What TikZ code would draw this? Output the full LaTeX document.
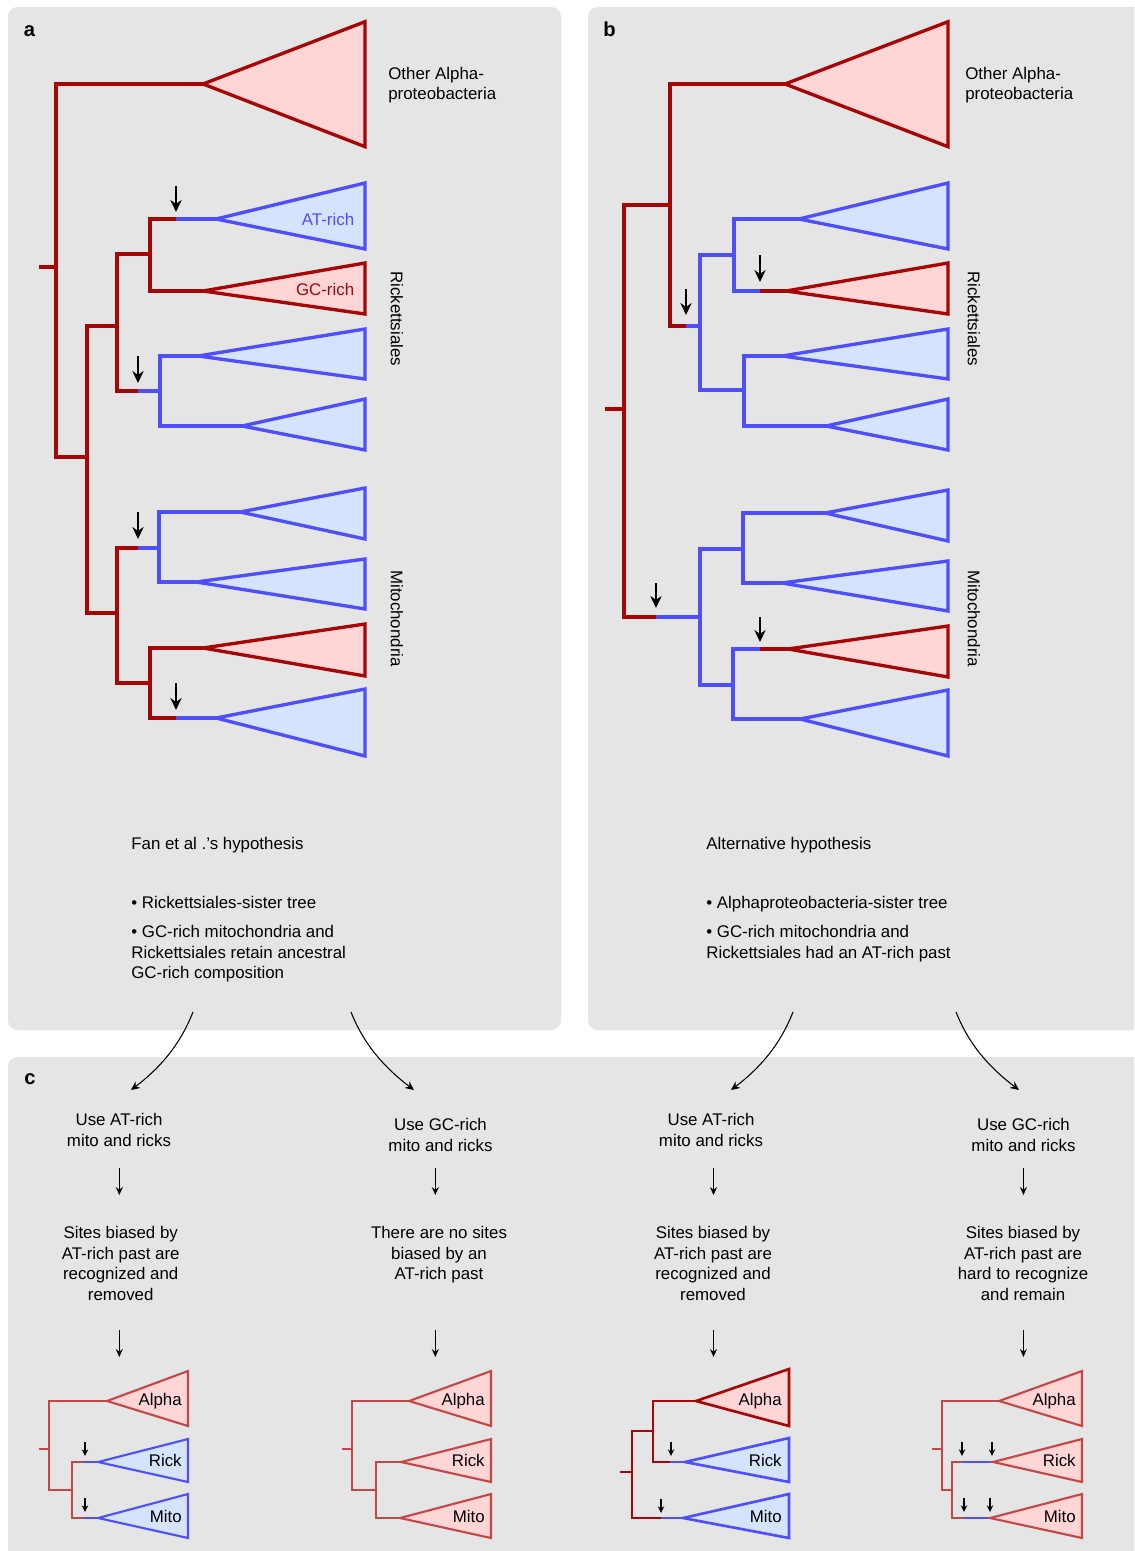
\documentclass[tikz,border=0pt]{standalone}
\usepackage{fontspec}
\setmainfont{Liberation Sans}
\usetikzlibrary{arrows.meta}
\definecolor{panel}{RGB}{229,229,229}
\definecolor{tred}{RGB}{166,6,6}
\definecolor{tblue}{RGB}{78,78,250}
\definecolor{pfill}{RGB}{255,213,214}
\definecolor{bfill}{RGB}{213,227,252}
\definecolor{mred}{RGB}{196,70,70}
\newcommand\mkclade[6]{\filldraw[#6] (#1,#2) -- (#3,#4) -- (#3,#5) -- cycle;}
\newcommand\mkarrow[5]{\coordinate (#1s) at (#2,#3); \coordinate (#1e) at (#2,#4); \draw[#5] (#1s) -- (#1e);}
\tikzset{
  rb/.style={draw=tred, line width=1.9pt},
  bb/.style={draw=tblue, line width=1.9pt},
  rtri/.style={draw=tred, fill=pfill, line width=1.9pt},
  btri/.style={draw=tblue, fill=bfill, line width=1.9pt},
  mrs/.style={draw=mred, line width=1.2pt},
  mbs/.style={draw=tblue, line width=1.2pt},
  mrtri/.style={draw=mred, fill=pfill, line width=1.2pt},
  mbtri/.style={draw=tblue, fill=bfill, line width=1.2pt},
  drs/.style={draw=tred, line width=1.5pt},
  dbs/.style={draw=tblue, line width=1.5pt},
  drtri/.style={draw=tred, fill=pfill, line width=1.5pt},
  dbtri/.style={draw=tblue, fill=bfill, line width=1.5pt},
  tarr/.style={-{Stealth[length=6.8pt,width=6.4pt]}, line width=1.1pt, black},
  sarr/.style={-{Stealth[length=3.8pt,width=3.6pt]}, line width=0.8pt, black},
  carr/.style={-{Stealth[length=4.5pt,width=4pt]}, line width=0.6pt, black},
  farr/.style={-{Stealth[length=5pt,width=4.6pt]}, line width=0.6pt, black},
  txt/.style={font=\fontsize{9.6}{11.7}\selectfont, inner sep=0pt},
  lbl/.style={font=\fontsize{11.5}{13}\selectfont\bfseries, inner sep=0pt, anchor=base west},
}
\begin{document}
\begin{tikzpicture}[x=0.02cm, y=-0.02cm]
\useasboundingbox (0,0) rectangle (1134,1551);
\begin{scope}
\clip (0,0) rectangle (1134,1551);
\fill[panel, rounded corners=5.5pt] (8,7) rectangle (561,1030);
\fill[panel, rounded corners=5.5pt] (588,7) rectangle (1150,1030);
\fill[panel, rounded corners=5.5pt] (8,1057) rectangle (1150,1570);
\end{scope}

% panel labels
\node[lbl] (la) at (23.5,36.7) {a};
\node[lbl] (lb) at (603,36.7) {b};
\node[lbl] (lc) at (24,1084) {c};

% ===== tree a =====
\draw[rb] (39,267) -- (56,267);
\draw[rb] (203,84) -- (56,84) -- (56,457) -- (87,457);
\draw[rb] (117,326) -- (87,326) -- (87,613) -- (117,613);
\draw[rb] (150,254) -- (117,254) -- (117,391) -- (138,391);
\draw[rb] (176,219) -- (150,219) -- (150,291) -- (203,291);
\draw[bb] (176,219) -- (216,219);
\draw[bb] (138,391) -- (160,391);
\draw[bb] (198,356) -- (160,356) -- (160,426) -- (242,426);
\draw[rb] (138,548) -- (117,548) -- (117,683) -- (150,683);
\draw[rb] (203,648) -- (150,648) -- (150,718) -- (176,718);
\draw[bb] (176,718) -- (216,718);
\draw[bb] (138,548) -- (159,548);
\draw[bb] (240,512) -- (159,512) -- (159,582) -- (196,582);
\mkclade{203}{84}{365}{21.7}{146.7}{rtri}
\mkclade{216}{219}{365}{183}{249}{btri}
\mkclade{203}{291}{365}{263}{314}{rtri}
\mkclade{198}{356}{365}{329}{379}{btri}
\mkclade{242}{426}{365}{399}{450}{btri}
\mkclade{240}{512}{365}{488}{539}{btri}
\mkclade{196}{582}{365}{559}{609}{btri}
\mkclade{203}{648}{365}{624}{676}{rtri}
\mkclade{216}{718}{365}{689}{756}{btri}
\mkarrow{aa1}{176}{186}{212}{tarr}
\mkarrow{aa2}{138}{356}{383}{tarr}
\mkarrow{aa3}{138}{512}{539}{tarr}
\mkarrow{aa4}{176}{683}{710}{tarr}
\node[txt, text=tblue, anchor=base east] (atrich) at (354.5,225.3) {AT-rich};
\node[txt, text=tred, anchor=base east] (gcrich) at (354.5,296) {GC-rich};
\node[txt, anchor=north west, align=left] (alphaA) at (388,66.7) {Other Alpha-\\proteobacteria};
\node[txt, rotate=-90] (rickA) at (397,318.7) {Rickettsiales};
\node[txt, rotate=-90] (mitoA) at (397,618.5) {Mitochondria};
\node[txt, anchor=north west] (hypA) at (131,837.3) {Fan et al .’s hypothesis};
\node[txt, anchor=north west, align=left] (bulA) at (131,895.7) {• Rickettsiales-sister tree\\[4.9pt]• GC-rich mitochondria and\\Rickettsiales retain ancestral\\GC-rich composition};

% ===== tree b =====
\draw[rb] (605,409) -- (624,409);
\draw[rb] (670,205) -- (624,205) -- (624,617) -- (656,617);
\draw[rb] (785,84) -- (670,84) -- (670,326) -- (686,326);
\draw[bb] (686,326) -- (700,326);
\draw[bb] (734,255) -- (700,255) -- (700,390) -- (744,390);
\draw[bb] (799,219) -- (734,219) -- (734,291) -- (760,291);
\draw[rb] (760,291) -- (786,291);
\draw[bb] (782,356) -- (744,356) -- (744,426) -- (826,426);
\draw[bb] (656,617) -- (700,617);
\draw[bb] (743,549) -- (700,549) -- (700,685) -- (733,685);
\draw[bb] (825,513) -- (743,513) -- (743,583) -- (782,583);
\draw[bb] (760,649) -- (733,649) -- (733,719) -- (800,719);
\draw[rb] (760,649) -- (788,649);
\mkclade{785}{84}{948}{21.7}{146.7}{rtri}
\mkclade{799}{219}{948}{183}{249}{btri}
\mkclade{786}{291}{948}{263}{314}{rtri}
\mkclade{782}{356}{948}{329}{379}{btri}
\mkclade{826}{426}{948}{399}{450}{btri}
\mkclade{825}{513}{948}{490}{541}{btri}
\mkclade{782}{583}{948}{561}{611}{btri}
\mkclade{788}{649}{948}{626}{677}{rtri}
\mkclade{800}{719}{948}{690}{756}{btri}
\mkarrow{ba1}{760}{255}{282}{tarr}
\mkarrow{ba2}{686}{289}{315}{tarr}
\mkarrow{ba3}{656}{583}{608}{tarr}
\mkarrow{ba4}{760}{617}{642}{tarr}
\node[txt, anchor=north west, align=left] (alphaB) at (965,66.7) {Other Alpha-\\proteobacteria};
\node[txt, rotate=-90] (rickB) at (974,318.7) {Rickettsiales};
\node[txt, rotate=-90] (mitoB) at (974,618.5) {Mitochondria};
\node[txt, anchor=north west] (hypB) at (706,837.3) {Alternative hypothesis};
\node[txt, anchor=north west, align=left] (bulB) at (706,895.7) {• Alphaproteobacteria-sister tree\\[4.9pt]• GC-rich mitochondria and\\Rickettsiales had an AT-rich past};

% ===== curved arrows to c =====
\coordinate (fa1) at (193,1012); \coordinate (fa1e) at (131,1090);
\coordinate (fa2) at (351,1012); \coordinate (fa2e) at (414,1090);
\coordinate (fb1) at (793,1012); \coordinate (fb1e) at (731,1090);
\coordinate (fb2) at (956,1012); \coordinate (fb2e) at (1019,1090);
\draw[farr] (fa1) .. controls (180,1045) and (160,1068) .. (fa1e);
\draw[farr] (fa2) .. controls (364,1045) and (385,1068) .. (fa2e);
\draw[farr] (fb1) .. controls (780,1045) and (760,1068) .. (fb1e);
\draw[farr] (fb2) .. controls (969,1045) and (990,1068) .. (fb2e);

% ===== panel c texts =====
\node[txt, anchor=north, align=center] (u1) at (119,1113) {Use AT-rich\\mito and ricks};
\node[txt, anchor=north, align=center] (s1) at (120.7,1226) {Sites biased by\\AT-rich past are\\recognized and\\removed};
\node[txt, anchor=north, align=center] (u2) at (440.5,1118.3) {Use GC-rich\\mito and ricks};
\node[txt, anchor=north, align=center] (s2) at (439,1226) {There are no sites\\biased by an\\AT-rich past};
\node[txt, anchor=north, align=center] (u3) at (711,1113) {Use AT-rich\\mito and ricks};
\node[txt, anchor=north, align=center] (s3) at (713,1226) {Sites biased by\\AT-rich past are\\recognized and\\removed};
\node[txt, anchor=north, align=center] (u4) at (1023.5,1118.3) {Use GC-rich\\mito and ricks};
\node[txt, anchor=north, align=center] (s4) at (1023,1226) {Sites biased by\\AT-rich past are\\hard to recognize\\and remain};
\mkarrow{ca1}{119.3}{1168}{1195}{carr}
\mkarrow{ca2}{435.3}{1168}{1195}{carr}
\mkarrow{ca3}{713.5}{1168}{1195}{carr}
\mkarrow{ca4}{1023.4}{1168}{1195}{carr}
\mkarrow{cb1}{119.3}{1330}{1357}{carr}
\mkarrow{cb2}{435.3}{1330}{1357}{carr}
\mkarrow{cb3}{713.5}{1330}{1357}{carr}
\mkarrow{cb4}{1023.4}{1330}{1357}{carr}

% ===== small tree c1 =====
\draw[mrs] (39,1449) -- (49,1449);
\draw[mrs] (107,1401) -- (49,1401) -- (49,1490) -- (72,1490);
\draw[mrs] (83,1462) -- (72,1462) -- (72,1518) -- (83,1518);
\draw[mbs] (83,1462) -- (98,1462);
\draw[mbs] (83,1518) -- (98,1518);
\mkclade{107}{1401}{188}{1371}{1426}{mrtri}
\mkclade{98}{1462}{188}{1439}{1482}{mbtri}
\mkclade{98}{1518}{188}{1494}{1538}{mbtri}
\mkarrow{t1a}{85}{1442}{1456}{sarr}
\mkarrow{t1b}{85}{1498}{1512}{sarr}
\node[txt, anchor=base east] (c1a) at (182,1405.5) {Alpha};
\node[txt, anchor=base east] (c1r) at (182,1466.5) {Rick};
\node[txt, anchor=base east] (c1m) at (182,1522.5) {Mito};

% ===== small tree c2 =====
\draw[mrs] (342,1449) -- (352,1449);
\draw[mrs] (409,1401) -- (352,1401) -- (352,1490) -- (376,1490);
\draw[mrs] (401,1462) -- (376,1462) -- (376,1518) -- (400,1518);
\mkclade{409}{1401}{491}{1371}{1426}{mrtri}
\mkclade{401}{1462}{491}{1439}{1482}{mrtri}
\mkclade{400}{1518}{491}{1494}{1538}{mrtri}
\node[txt, anchor=base east] (c2a) at (485,1405.5) {Alpha};
\node[txt, anchor=base east] (c2r) at (485,1466.5) {Rick};
\node[txt, anchor=base east] (c2m) at (485,1522.5) {Mito};

% ===== small tree c3 =====
\draw[drs] (620,1472) -- (632,1472);
\draw[drs] (653,1431) -- (632,1431) -- (632,1518) -- (661,1518);
\draw[drs] (696,1401) -- (653,1401) -- (653,1462) -- (670,1462);
\draw[dbs] (670,1462) -- (685,1462);
\draw[dbs] (661,1518) -- (683,1518);
\mkclade{696}{1401}{789}{1369}{1426}{drtri}
\mkclade{685}{1462}{789}{1438}{1482}{dbtri}
\mkclade{683}{1518}{789}{1494}{1538}{dbtri}
\mkarrow{t3a}{671}{1442}{1456}{sarr}
\mkarrow{t3b}{661}{1499}{1513}{sarr}
\node[txt, anchor=base east] (c3a) at (782,1405.5) {Alpha};
\node[txt, anchor=base east] (c3r) at (782,1466.5) {Rick};
\node[txt, anchor=base east] (c3m) at (782,1522.5) {Mito};

% ===== small tree c4 =====
\draw[mrs] (932,1449) -- (942,1449);
\draw[mrs] (999,1401) -- (942,1401) -- (942,1490) -- (952,1490);
\draw[mrs] (962,1462) -- (952,1462) -- (952,1518) -- (964,1518);
\draw[mbs] (962,1462) -- (993,1462);
\draw[mbs] (964,1518) -- (990,1518);
\mkclade{999}{1401}{1082}{1371}{1426}{mrtri}
\mkclade{993}{1462}{1082}{1439}{1482}{mrtri}
\mkclade{990}{1518}{1082}{1494}{1538}{mrtri}
\mkarrow{t4a}{962}{1442}{1456}{sarr}
\mkarrow{t4b}{992}{1442}{1456}{sarr}
\mkarrow{t4c}{964}{1498}{1512}{sarr}
\mkarrow{t4d}{990}{1498}{1512}{sarr}
\node[txt, anchor=base east] (c4a) at (1076,1405.5) {Alpha};
\node[txt, anchor=base east] (c4r) at (1076,1466.5) {Rick};
\node[txt, anchor=base east] (c4m) at (1076,1522.5) {Mito};
\end{tikzpicture}
\end{document}
